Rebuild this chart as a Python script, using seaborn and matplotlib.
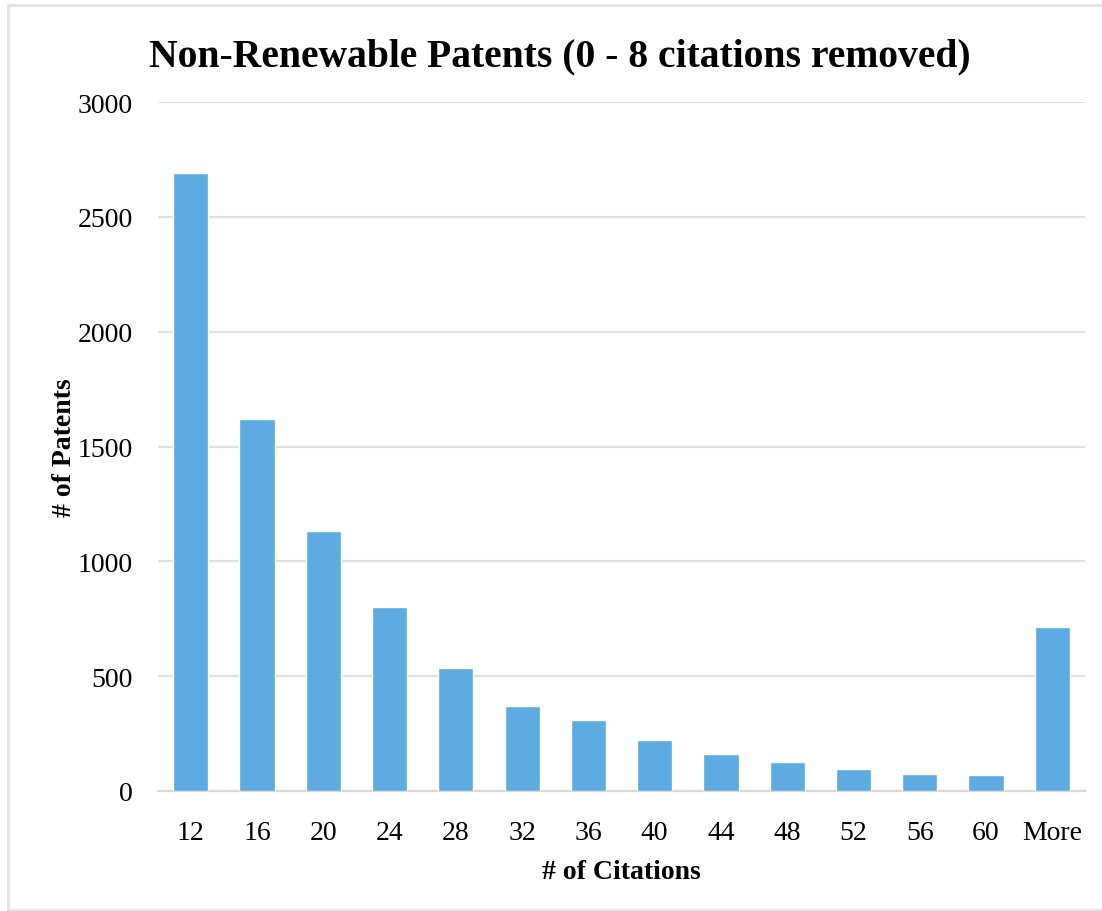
import matplotlib
matplotlib.use("Agg")
import matplotlib.pyplot as plt
import seaborn as sns
import pandas as pd
from matplotlib.lines import Line2D

# data
citations = ["12", "16", "20", "24", "28", "32", "36", "40", "44", "48", "52", "56", "60", "More"]
patents = [2690, 1618, 1130, 802, 537, 372, 310, 224, 163, 128, 94, 76, 68, 712]
y_ticks = [0, 500, 1000, 1500, 2000, 2500, 3000]

df = pd.DataFrame({"citations": citations, "patents": patents})

sns.set_style("white")
plt.rcParams["font.family"] = ["Liberation Serif", "DejaVu Serif"]
plt.rcParams["text.color"] = "black"
plt.rcParams["axes.labelcolor"] = "black"

fig = plt.figure(figsize=(11.02, 9.12), dpi=100)
ax = fig.add_axes([0.143, 0.1316, 0.842, 0.7554])

sns.barplot(data=df, x="citations", y="patents", color="#5dabe0",
            saturation=1, width=0.53, ax=ax, zorder=3)

ax.set_ylim(0, 3000)
ax.set_yticks(y_ticks)
ax.grid(axis="y", color="#e0e0e0", linewidth=1.6, zorder=0)
for s in ["left", "right", "top"]:
    ax.spines[s].set_visible(False)
ax.spines["bottom"].set_color("#d9d9d9")
ax.spines["bottom"].set_linewidth(1.6)
ax.tick_params(axis="both", length=0, labelsize=20, colors="black")
ax.tick_params(axis="y", pad=18)
ax.tick_params(axis="x", pad=21)

ax.set_xlabel("# of Citations", fontsize=20, fontweight="bold", labelpad=10)
ax.set_ylabel("# of Patents", fontsize=20, fontweight="bold", labelpad=0)
fig.text(0.508, 0.938, "Non-Renewable Patents (0 - 8 citations removed)",
         ha="center", va="center", fontsize=28.5, fontweight="bold")

# thin grey frame (top, left, bottom) around the chart
frame = dict(transform=fig.transFigure, color="#e3e3e3", linewidth=2)
fig.lines.append(Line2D([0.007, 1.0], [0.9935, 0.9935], **frame))
fig.lines.append(Line2D([0.007, 1.0], [0.0015, 0.0015], **frame))
fig.lines.append(Line2D([0.007, 0.007], [0.0015, 0.9935], **frame))

fig.savefig("out.png", dpi=100, facecolor="white")
